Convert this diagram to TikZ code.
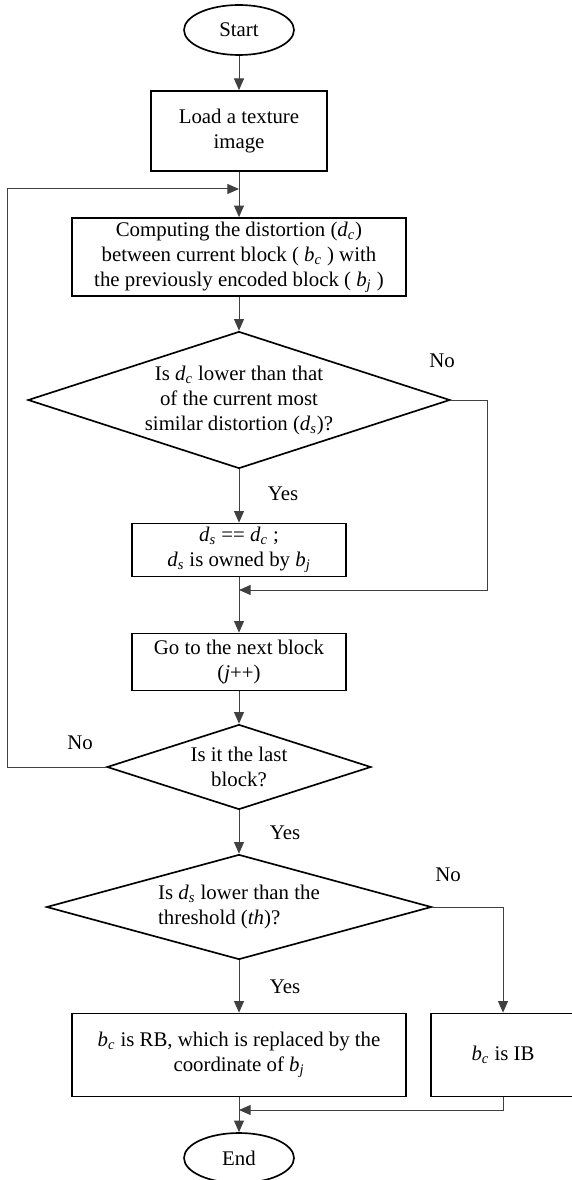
\documentclass[tikz,border=0pt]{standalone}
\usepackage{fontspec}
\setmainfont{Liberation Serif}
\usetikzlibrary{arrows.meta, shapes.geometric}
\newcommand{\dvar}[1]{\textit{d}\textsubscript{\textit{#1}}}
\newcommand{\bvar}[1]{\textit{b}\textsubscript{\textit{#1}}}

\begin{document}
\begin{tikzpicture}[x=0.6pt, y=-0.6pt,
  every node/.style={font=\fontsize{12.5}{15}\selectfont, align=center},
  term/.style={draw, ellipse, line width=1pt, minimum width=66pt, minimum height=30pt, inner sep=0pt},
  proc/.style={draw, rectangle, line width=1pt, inner sep=0pt},
  decide/.style={draw, diamond, line width=1pt, inner sep=0pt},
  flow/.style={draw=black!75, line width=0.6pt, -{Triangle[length=7pt,width=6pt]}}]
  \useasboundingbox (0,0) rectangle (572,1180);
  \node[term] (start) at (239,30) {Start};
  \node[proc, minimum width=105.6pt, minimum height=48pt] (load) at (239,131) {Load a texture\\image};
  \node[proc, minimum width=200.4pt, minimum height=46.8pt] (comp) at (239,257)
    {Computing the distortion (\dvar{c})\\between current block ( \bvar{c} ) with\\the previously encoded block ( \bvar{j} )};
  \node[decide, shape aspect=3.08, minimum width=253.2pt, minimum height=82.2pt] (d1) at (239,400)
    {Is \dvar{c} lower than that\\of the current most\\similar distortion (\dvar{s})?};
  \node[proc, minimum width=128.4pt, minimum height=31.8pt] (ds) at (239,550) {\dvar{s} == \dvar{c} ;\\\dvar{s} is owned by \bvar{j}};
  \node[proc, minimum width=128.4pt, minimum height=34.2pt] (go) at (239,662) {Go to the next block\\(\textit{j}++)};
  \node[decide, shape aspect=3.1, minimum width=158.4pt, minimum height=51pt] (d2) at (239,767) {Is it the last\\block?};
  \node[decide, shape aspect=3.67, minimum width=231pt, minimum height=63pt, align=left] (d3) at (239,907)
    {Is \dvar{s} lower than the\\threshold (\textit{th})?};
  \node[proc, minimum width=200.4pt, minimum height=49.8pt] (rb) at (239,1055)
    {\bvar{c} is RB, which is replaced by the\\coordinate of \bvar{j}};
  \node[proc, minimum width=86.4pt, minimum height=49.8pt] (ib) at (503,1055) {\bvar{c} is IB};
  \node[term] (end) at (239,1158) {End};

  \node (no1) at (442,361) {No};
  \node (yes1) at (283,494) {Yes};
  \node (no2) at (80,743) {No};
  \node (yes2) at (285,833) {Yes};
  \node (no3) at (448,875) {No};
  \node (yes3) at (285,987) {Yes};

  \coordinate (l1) at (239,189);
  \coordinate (lx) at (7,189);
  \coordinate (r1) at (487,590);
  \coordinate (m1) at (239,590);
  \coordinate (m2) at (239,1110);

  \draw[flow] (start) -- (load);
  \draw[flow] (load) -- (comp);
  \draw[flow] (comp) -- (d1);
  \draw[flow] (d1) -- (ds);
  \draw[flow] (ds) -- (go);
  \draw[flow] (go) -- (d2);
  \draw[flow] (d2) -- (d3);
  \draw[flow] (d3) -- (rb);
  \draw[flow] (rb) -- (end);
  \draw[flow] (d1.east) -| (r1) -- (m1);
  \draw[flow] (d2.west) -| (lx) -- (l1);
  \draw[flow] (d3.east) -| (ib.north);
  \draw[flow] (ib.south) |- (m2);
\end{tikzpicture}
\end{document}
